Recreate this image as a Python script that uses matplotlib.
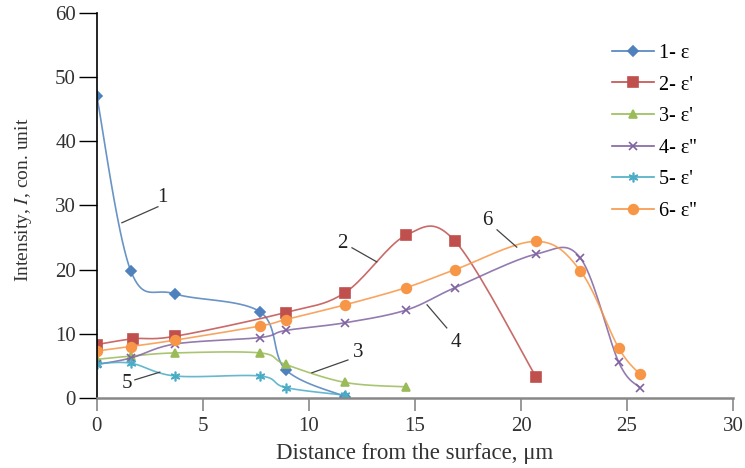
import numpy as np
import matplotlib
matplotlib.use("Agg")
import matplotlib.pyplot as plt

plt.rcParams['font.family'] = ['Liberation Serif', 'DejaVu Serif']
plt.rcParams['mathtext.fontset'] = 'stix'

# depth points (um) and intensities
x1 = [0, 1.6, 3.7, 7.7, 8.9, 11.7]
y1 = [47, 19.8, 16.2, 13.4, 4.4, 0.2]
x2 = [0, 1.7, 3.7, 8.9, 11.7, 14.6, 16.9, 20.7]
y2 = [8.3, 9.2, 9.6, 13.3, 16.4, 25.4, 24.4, 3.3]
x3 = [0, 1.6, 3.7, 7.7, 8.9, 11.7, 14.6]
y3 = [6.0, 6.5, 7.0, 7.0, 5.2, 2.4, 1.7]
x4 = [0, 1.6, 3.7, 7.7, 8.9, 11.7, 14.6, 16.9, 20.7, 22.8, 24.6, 25.6]
y4 = [5.2, 6.2, 8.4, 9.4, 10.5, 11.7, 13.7, 17.2, 22.4, 21.8, 5.6, 1.6]
x5 = [0, 1.6, 3.7, 7.7, 8.9, 11.7]
y5 = [5.3, 5.4, 3.4, 3.4, 1.6, 0.4]
x6 = [0, 1.6, 3.7, 7.7, 8.9, 11.7, 14.6, 16.9, 20.7, 22.8, 24.6, 25.6]
y6 = [7.3, 8.0, 9.0, 11.2, 12.2, 14.5, 17.2, 20.0, 24.4, 19.8, 7.8, 3.7]

labels = ["1- ε", "2- ε'", "3- ε'", "4- ε''", "5- ε'", "6- ε''"]
colors = ['#4F81BD', '#C0504D', '#9BBB59', '#8064A2', '#4BACC6', '#F79646']
markers = ['D', 's', '^', 'x', (6, 2, 0), 'o']
msizes = [5, 7, 6, 6, 7, 7]


def smooth(x, y, n=20):
    # excel style bezier smoothing through the points
    p = np.column_stack([x, y]).astype(float)
    pts = [p[0]]
    for i in range(len(p) - 1):
        p0 = p[i - 1] if i > 0 else p[i]
        p3 = p[i + 2] if i + 2 < len(p) else p[i + 1]
        c1 = p[i] + (p[i + 1] - p0) / 6
        c2 = p[i + 1] - (p3 - p[i]) / 6
        t = np.linspace(0, 1, n)[1:, None]
        b = ((1 - t) ** 3 * p[i] + 3 * (1 - t) ** 2 * t * c1
             + 3 * (1 - t) * t ** 2 * c2 + t ** 3 * p[i + 1])
        pts.extend(b)
    pts = np.array(pts)
    return pts[:, 0], pts[:, 1]


fig = plt.figure(figsize=(7.45, 4.68), dpi=100)
ax = fig.add_axes([0.130, 0.150, 0.854, 0.822])

series = [(x1, y1), (x2, y2), (x3, y3), (x4, y4), (x5, y5), (x6, y6)]
handles = []
for (xs, ys), lab, c, m, ms in zip(series, labels, colors, markers, msizes):
    sx, sy = smooth(xs, ys)
    ax.plot(sx, sy, color=c, lw=1.2, alpha=0.85)
    ax.plot(xs, ys, ls='none', marker=m, color=c, ms=ms, mew=1.2)
    h, = ax.plot([], [], color=c, lw=1.2, marker=m, ms=ms, mew=1.2)
    handles.append(h)

# curve numbers with leader lines
notes = [("1", 3.1, 31.2, [2.88, 1.18], [29.8, 27.3]),
         ("2", 11.56, 24.1, [12.03, 13.2], [23.4, 21.2]),
         ("3", 12.3, 7.0, [11.84, 10.14], [5.9, 3.9]),
         ("4", 16.93, 8.7, [16.5, 15.57], [10.9, 14.5]),
         ("5", 1.42, 2.3, [1.79, 2.97], [2.8, 4.0]),
         ("6", 18.4, 27.7, [18.87, 19.8], [26.2, 23.5])]
for t, tx, ty, lx, ly in notes:
    ax.text(tx, ty, t, fontsize=15, ha='center', va='center', color='#222222')
    ax.plot(lx, ly, color='#444444', lw=0.9)

ax.set_xlim(0, 30)
ax.set_ylim(0, 60)
ax.set_xticks(range(0, 31, 5))
ax.set_yticks(range(0, 61, 10))
ax.spines['top'].set_visible(False)
ax.spines['right'].set_visible(False)
ax.spines['bottom'].set_color('#888888')
ax.spines['bottom'].set_linewidth(1.8)
ax.spines['left'].set_linewidth(1.2)
ax.tick_params(axis='x', direction='out', length=9, width=1.2, colors='#888888',
               labelcolor='#333333', labelsize=15, pad=5)
ax.tick_params(axis='y', direction='out', length=13, width=1.0,
               labelcolor='#333333', labelsize=15, pad=2)
ax.set_xlabel("Distance from the surface, μm", fontsize=16.5, color='#333333', labelpad=5)
ax.set_ylabel("Intensity, $I$, con. unit", fontsize=14, color='#333333')
ax.yaxis.set_label_coords(-0.098, 0.514)

fig.legend(handles=handles, labels=labels, loc='upper left',
           bbox_to_anchor=(0.797, 0.945), frameon=False, fontsize=14.5,
           handlelength=2.1, handletextpad=0.25, labelspacing=0.62)

fig.savefig("out.png", dpi=100)
